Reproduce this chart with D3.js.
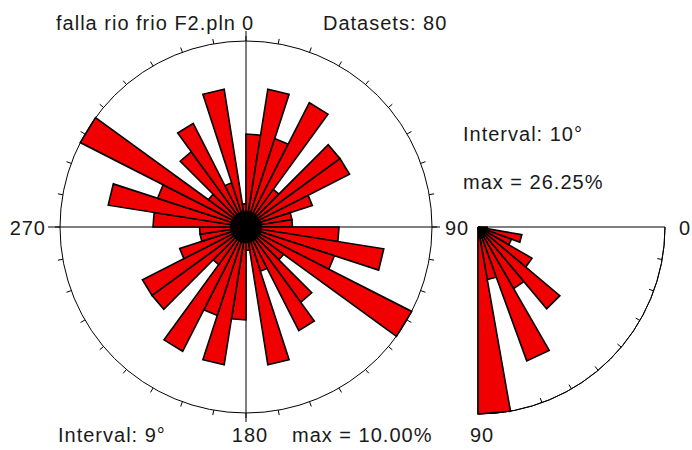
<!DOCTYPE html>
<html>
<head>
<meta charset="utf-8">
<script src="https://cdn.jsdelivr.net/npm/d3@7"></script>
<style>
    html, body { margin: 0; padding: 0; background: #fff; }
    #chart { width: 692px; height: 450px; }
    text { font-family: "Liberation Sans", Arial, sans-serif; font-size: 20px; letter-spacing: 1px; fill: #1a1a1a; }
</style>
</head>
<body>
<div id="chart"></div>
<script>
//Datos de la rosa de direcciones (porcentaje por sector de 9°, desde el norte en sentido horario)
const SECTORES_ROSA = [5, 7.5, 5, 7.5, 2.5, 6.25, 6.25, 3.75, 2.5, 2.5,
    5, 7.5, 5, 10, 2.5, 5, 6.25, 2.5, 7.5, 1.25,
    5, 7.5, 5, 7.5, 2.5, 6.25, 6.25, 3.75, 2.5, 2.5,
    5, 7.5, 5, 10, 2.5, 5, 6.25, 2.5, 7.5, 1.25];
const INTERVALO_ROSA = 9;
const MAX_ROSA = 10;
const ETIQUETAS_ROSA = ['0', '90', '180', '270'];

//Datos del buzamiento (porcentaje por sector de 10°, de 0 a 90)
const SECTORES_BUZ = [1.25, 6.25, 5, 8.75, 15, 10, 20, 7.5, 26.25];
const INTERVALO_BUZ = 10;
const MAX_BUZ = 26.25;
const ETIQUETAS_BUZ = ['90', '0', '90'];

const TITULO = 'falla rio frio F2.pln';
const DATASETS = 80;

//Colores fijos
const COLOR_BARRA = '#f00000',
COLOR_LINEA = '#000000';

let svg = d3.select('#chart')
    .append('svg')
        .attr('width', 692)
        .attr('height', 450);

let cuna = d3.lineRadial()
    .angle(function(d) { return d[0]; })
    .radius(function(d) { return d[1]; })
    .curve(d3.curveLinearClosed);

function punto(a, r) {
    return [r * Math.sin(a), -r * Math.cos(a)];
}

/////
// Rosa principal
/////
let R = 186;
let rosa = svg.append('g').attr('transform', 'translate(246,227)');

let r = d3.scaleLinear().domain([0, MAX_ROSA]).range([0, R]);
let ang = d3.scaleLinear().domain([0, 360]).range([0, 2 * Math.PI]);

rosa.append('circle')
    .attr('r', r(MAX_ROSA))
    .attr('fill', 'none')
    .attr('stroke', COLOR_LINEA)
    .attr('stroke-width', 1);

rosa.selectAll('.tick')
    .data(d3.range(0, 360, 10))
    .enter()
    .append('line')
    .attr('class', 'tick')
    .attr('x1', function(d) { return punto(ang(d), R)[0]; })
    .attr('y1', function(d) { return punto(ang(d), R)[1]; })
    .attr('x2', function(d) { return punto(ang(d), R + 5)[0]; })
    .attr('y2', function(d) { return punto(ang(d), R + 5)[1]; })
    .attr('stroke', COLOR_LINEA);

rosa.append('line').attr('x1', -R - 12).attr('x2', R + 8).attr('y1', 0).attr('y2', 0).attr('stroke', COLOR_LINEA);
rosa.append('line').attr('y1', -R - 10).attr('y2', R + 9).attr('x1', 0).attr('x2', 0).attr('stroke', COLOR_LINEA);

rosa.selectAll('.bars')
    .data(SECTORES_ROSA)
    .enter()
    .append('path')
    .attr('class', 'bars')
    .attr('d', function(d, i) {
        let a0 = ang(i * INTERVALO_ROSA), a1 = ang((i + 1) * INTERVALO_ROSA);
        return cuna([[a0, 0], [a0, r(d)], [a1, r(d)]]);
    })
    .attr('fill', COLOR_BARRA)
    .attr('stroke', COLOR_LINEA)
    .attr('stroke-width', 1.6)
    .attr('stroke-linejoin', 'miter');

rosa.append('circle').attr('r', 16).attr('fill', COLOR_LINEA);

//Textos
svg.append('text').attr('x', 236).attr('y', 30).attr('text-anchor', 'end').text(TITULO);
svg.append('text').attr('x', 248).attr('y', 30).attr('text-anchor', 'middle').text(ETIQUETAS_ROSA[0]);
svg.append('text').attr('x', 323).attr('y', 30).text('Datasets: ' + DATASETS);
//El 90 de la rosa y el 90 del buzamiento caen en el mismo sitio: una sola etiqueta
svg.append('text').attr('x', 445).attr('y', 235).text(ETIQUETAS_ROSA[1]);
svg.append('text').attr('x', 250).attr('y', 442).attr('text-anchor', 'middle').text(ETIQUETAS_ROSA[2]);
svg.append('text').attr('x', 46).attr('y', 235).attr('text-anchor', 'end').text(ETIQUETAS_ROSA[3]);
svg.append('text').attr('x', 58).attr('y', 442).text('Interval: ' + INTERVALO_ROSA + '°');
svg.append('text').attr('x', 292).attr('y', 442).text('max = ' + MAX_ROSA.toFixed(2) + '%');

/////
// Cuarto de círculo del buzamiento
/////
let R2 = 187;
let buz = svg.append('g').attr('transform', 'translate(478,227)');

let r2 = d3.scaleLinear().domain([0, MAX_BUZ]).range([0, R2]);
let ang2 = d3.scaleLinear().domain([0, 90]).range([Math.PI / 2, Math.PI]);

buz.append('path')
    .attr('d', d3.arc()({innerRadius: R2, outerRadius: R2, startAngle: ang2(0), endAngle: ang2(90)}))
    .attr('fill', 'none')
    .attr('stroke', COLOR_LINEA);

buz.selectAll('.tick')
    .data(d3.range(10, 90, 10))
    .enter()
    .append('line')
    .attr('class', 'tick')
    .attr('x1', function(d) { return punto(ang2(d), R2)[0]; })
    .attr('y1', function(d) { return punto(ang2(d), R2)[1]; })
    .attr('x2', function(d) { return punto(ang2(d), R2 - 5)[0]; })
    .attr('y2', function(d) { return punto(ang2(d), R2 - 5)[1]; })
    .attr('stroke', COLOR_LINEA);

buz.append('line').attr('x1', 0).attr('x2', R2).attr('y1', 0).attr('y2', 0).attr('stroke', COLOR_LINEA);
buz.append('line').attr('x1', 0).attr('x2', 0).attr('y1', 0).attr('y2', R2).attr('stroke', COLOR_LINEA);

buz.selectAll('.bars')
    .data(SECTORES_BUZ)
    .enter()
    .append('path')
    .attr('class', 'bars')
    .attr('d', function(d, i) {
        let a0 = ang2(i * INTERVALO_BUZ), a1 = ang2((i + 1) * INTERVALO_BUZ);
        return cuna([[a0, 0], [a0, r2(d)], [a1, r2(d)]]);
    })
    .attr('fill', COLOR_BARRA)
    .attr('stroke', COLOR_LINEA)
    .attr('stroke-width', 1.6)
    .attr('stroke-linejoin', 'miter');

buz.append('path')
    .attr('d', d3.arc()({innerRadius: 0, outerRadius: 10, startAngle: ang2(0), endAngle: ang2(90)}))
    .attr('fill', COLOR_LINEA);

svg.append('text').attr('x', 463).attr('y', 141).text('Interval: ' + INTERVALO_BUZ + '°');
svg.append('text').attr('x', 463).attr('y', 189).text('max = ' + MAX_BUZ.toFixed(2) + '%');
svg.append('text').attr('x', 679).attr('y', 235).text(ETIQUETAS_BUZ[1]);
svg.append('text').attr('x', 470).attr('y', 442).text(ETIQUETAS_BUZ[2]);
</script>
</body>
</html>
